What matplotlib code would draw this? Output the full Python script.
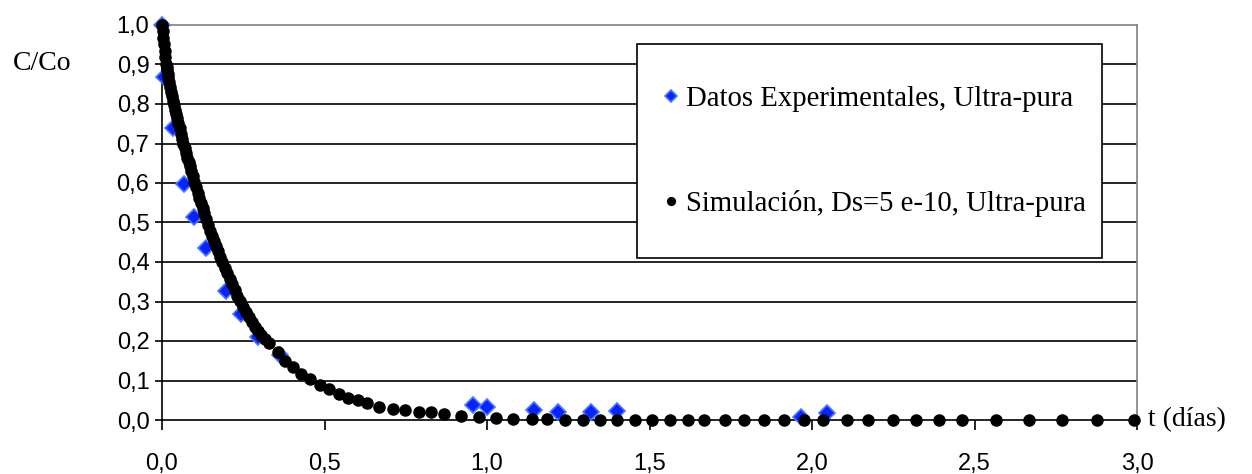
import matplotlib.pyplot as plt
from matplotlib.patches import Rectangle
from matplotlib.ticker import FixedLocator, FuncFormatter

# Experimental data (blue diamonds)
t_exp = [0.000, 0.006, 0.033, 0.068, 0.098, 0.135, 0.196, 0.243, 0.296, 0.363,
         0.958, 1.000, 1.144, 1.219, 1.320, 1.400, 1.966, 2.045]
c_exp = [1.000, 0.869, 0.740, 0.598, 0.514, 0.436, 0.327, 0.268, 0.210, 0.165,
         0.038, 0.034, 0.025, 0.020, 0.020, 0.024, 0.008, 0.017]

# Simulation (black dots)
t_sim = [0.000, 0.002, 0.004, 0.006, 0.008, 0.010, 0.012, 0.014, 0.016, 0.018,
         0.020, 0.023, 0.026, 0.029, 0.032, 0.035, 0.038, 0.041, 0.044, 0.047,
         0.050, 0.054, 0.058, 0.062, 0.066, 0.070, 0.074, 0.078, 0.082, 0.086,
         0.090, 0.095, 0.100, 0.105, 0.110, 0.115, 0.120, 0.125, 0.130, 0.136,
         0.142, 0.148, 0.154, 0.160, 0.166, 0.172, 0.179, 0.186, 0.193, 0.200,
         0.208, 0.216, 0.224, 0.232, 0.240, 0.249, 0.258, 0.267, 0.276, 0.286,
         0.296, 0.306, 0.318,
         0.330, 0.356, 0.378, 0.404, 0.429, 0.455, 0.486, 0.515, 0.544, 0.573,
         0.604, 0.632, 0.668, 0.711, 0.747, 0.791, 0.829, 0.868, 0.919, 0.976,
         1.029, 1.081, 1.137, 1.186, 1.241, 1.295, 1.349, 1.400, 1.456, 1.507,
         1.562, 1.618, 1.669, 1.731, 1.792, 1.851, 1.915, 1.974, 2.035, 2.108,
         2.171, 2.248, 2.320, 2.392, 2.461, 2.566, 2.668, 2.769, 2.878, 2.990]
c_sim = [1.000, 0.985, 0.968, 0.952, 0.935, 0.918, 0.902, 0.893, 0.885, 0.876,
         0.868, 0.855, 0.843, 0.831, 0.820, 0.808, 0.797, 0.786, 0.775, 0.764,
         0.753, 0.739, 0.725, 0.712, 0.700, 0.688, 0.676, 0.664, 0.653, 0.642,
         0.631, 0.617, 0.603, 0.589, 0.575, 0.562, 0.549, 0.536, 0.523, 0.508,
         0.493, 0.479, 0.466, 0.453, 0.440, 0.427, 0.413, 0.400, 0.386, 0.373,
         0.358, 0.344, 0.329, 0.315, 0.301, 0.287, 0.273, 0.260, 0.248, 0.236,
         0.225, 0.214, 0.204,
         0.195, 0.171, 0.150, 0.134, 0.117, 0.104, 0.089, 0.078, 0.066, 0.055,
         0.051, 0.042, 0.034, 0.028, 0.025, 0.021, 0.019, 0.014, 0.011, 0.007,
         0.004, 0.003, 0.002, 0.002, 0.001, 0.001, 0.000, 0.000, 0.000, 0.000,
         0.000, 0.000, 0.000, 0.000, 0.000, 0.000, 0.000, 0.000, 0.000, 0.000,
         0.000, 0.000, 0.000, 0.000, 0.000, 0.000, 0.000, 0.000, 0.000, 0.000]

y_ticks = [0.0, 0.1, 0.2, 0.3, 0.4, 0.5, 0.6, 0.7, 0.8, 0.9, 1.0]
x_ticks = [0.0, 0.5, 1.0, 1.5, 2.0, 2.5, 3.0]

label_exp = "Datos Experimentales, Ultra-pura"
label_sim = "Simulación, Ds=5 e-10, Ultra-pura"

W, H = 1252, 474
fig = plt.figure(figsize=(W / 100, H / 100), dpi=100)
ax = fig.add_axes([162 / W, 1 - 420 / H, 975 / W, 395 / H])

ax.set_xlim(0, 3.0)
ax.set_ylim(0, 1.0)

# horizontal gridlines
for y in y_ticks[1:-1]:
    ax.axhline(y, color='black', linewidth=1.2, zorder=1)

ax.plot(t_exp, c_exp, linestyle='none', marker='D', markersize=8.5,
        markerfacecolor='#0a22ff', markeredgecolor='#4a78ff', markeredgewidth=1.2,
        label=label_exp, zorder=3, clip_on=False)
ax.plot(t_sim, c_sim, linestyle='none', marker='o', markersize=8,
        markerfacecolor='black', markeredgecolor='black',
        label=label_sim, zorder=4, clip_on=False)

for side in ['top', 'right']:
    ax.spines[side].set_color('#808080')
    ax.spines[side].set_linewidth(1.2)
for side in ['left', 'bottom']:
    ax.spines[side].set_color('black')
    ax.spines[side].set_linewidth(1.2)

comma = FuncFormatter(lambda v, p: f"{v:.1f}".replace('.', ','))
ax.xaxis.set_major_locator(FixedLocator(x_ticks))
ax.yaxis.set_major_locator(FixedLocator(y_ticks))
ax.xaxis.set_major_formatter(comma)
ax.yaxis.set_major_formatter(comma)
ax.tick_params(axis='x', direction='out', length=7, width=1.2, pad=17,
               labelsize=17, colors='black')
ax.tick_params(axis='y', direction='out', length=5, width=1.2, pad=4,
               labelsize=17, colors='black')
for lab in ax.get_xticklabels() + ax.get_yticklabels():
    lab.set_fontfamily('Liberation Sans')

fig.text(13 / W, 1 - 63 / H, "C/Co", fontsize=20, family='Liberation Serif',
         ha='left', va='center')
fig.text(1148 / W, 1 - 420 / H, "t (días)", fontsize=20, family='Liberation Serif',
         ha='left', va='center')

# legend box, drawn in the axes so the legend sits on top of it
box = Rectangle((637 / W, 1 - 258 / H), 465 / W, 214 / H, transform=fig.transFigure,
                facecolor='white', edgecolor='black', linewidth=1.2, zorder=9,
                clip_on=False)
ax.add_patch(box)

leg = ax.legend(loc='upper left', bbox_to_anchor=(664 / W, 1 - 86 / H),
                bbox_transform=fig.transFigure, frameon=False,
                prop={'family': 'Liberation Serif', 'size': 20.7},
                borderpad=0, labelspacing=2.7, handlelength=0.5,
                handletextpad=0.25, borderaxespad=0, markerscale=0.7)
leg.set_zorder(10)

fig.savefig("out.png", dpi=100)
